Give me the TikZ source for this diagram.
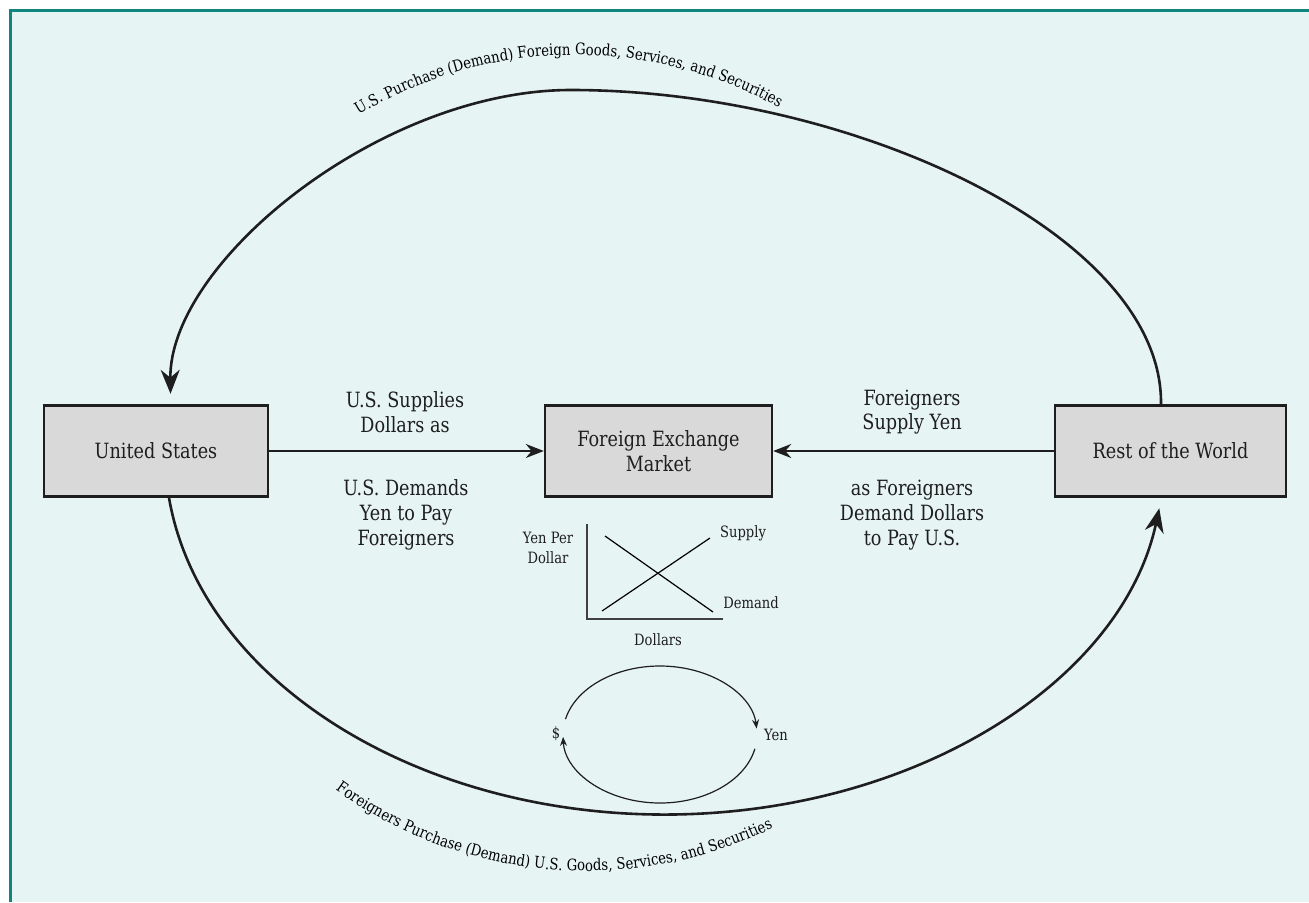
\documentclass[tikz,border=0pt]{standalone}
\usepackage{fontspec}
\setmainfont{DejaVu Serif}[FakeStretch=0.84]
\usetikzlibrary{arrows.meta, calc, decorations.text}
\definecolor{bgcol}{HTML}{E7F4F4}
\definecolor{framecol}{HTML}{10857D}
\definecolor{boxfill}{HTML}{D9D9D9}
\definecolor{ink}{HTML}{1E1E1E}
\newcommand\curvefont{\fontsize{7.9}{9}\selectfont}

\begin{document}
\begin{tikzpicture}[x=0.5pt, y=0.5pt, text=ink,
  block/.style={draw=ink, fill=boxfill, line width=1.2pt, minimum height=45.5pt,
    inner sep=0pt, font=\fontsize{10.5}{12.6}\selectfont, align=center},
  lbl/.style={font=\fontsize{10.5}{12.4}\selectfont, align=center},
  graphlbl/.style={font=\fontsize{7.8}{9.6}\selectfont, align=center, inner sep=1pt},
  xarr/.style={-{Stealth[length=9pt, width=7pt]}, line width=1pt, draw=ink},
  bigarr/.style={-{Stealth[length=12pt, width=9.5pt]}, line width=1.3pt, draw=ink},
  cycarr/.style={-{Stealth[length=4.5pt, width=3.5pt]}, line width=0.6pt, draw=ink}]

  % Frame
  \useasboundingbox (0,0) rectangle (1309,902);
  \fill[bgcol] (10,0) rectangle (1309,892);
  \draw[framecol, line width=1.5pt] (10,0) -- (10,891) -- (1309,891);

  % ---- Economies and market ----
  \node[block, minimum width=112pt] (us) at (156,451) {United States};
  \node[block, minimum width=113.5pt] (fx) at (658.5,451) {Foreign Exchange\\Market};
  \node[block, minimum width=115.5pt] (rw) at (1170.5,451) {Rest of the World};

  \draw[xarr] (us) -- (fx);
  \draw[xarr] (rw) -- (fx);

  \node[lbl] (ussup) at (405,490) {U.S. Supplies\\Dollars as};
  \node[lbl] (usdem) at (406,387) {U.S. Demands\\Yen to Pay\\Foreigners};
  \node[lbl] (fsup) at (912,490) {Foreigners\\Supply Yen};
  \node[lbl] (fdem) at (912,387) {as Foreigners\\Demand Dollars\\to Pay U.S.};

  % ---- Goods flows ----
  \coordinate (peak) at (571,812);
  \draw[bigarr] ([xshift=-4.75pt]rw.north) .. controls +(2,170) and (851,812) .. (peak)
    .. controls (381,812) and (169,640) .. ([shift={(7.25pt,5.25pt)}]us.north);
  \draw[bigarr] ([xshift=6.5pt]us.south)
    arc[start angle=187.1, end angle=351.2, x radius=500, y radius=361.5];

  \coordinate (topc) at (575,427);
  \coordinate (botc) at (586,459);
  \path[decorate, decoration={text along path, text align=center,
      text={|\curvefont|U.S. Purchase (Demand) Foreign Goods, Services, and Securities}}]
    ($(topc)+(126:420)$) arc[start angle=126, end angle=56, radius=420];
  \path[decorate, decoration={text along path, text align=center,
      text={|\curvefont|Foreigners Purchase (Demand) U.S. Goods, Services, and Securities}}]
    ($(botc)+(-130:428)$) arc[start angle=-130, end angle=-60, radius=428];

  % ---- Supply and demand sketch ----
  \coordinate (gorig) at (587,283);
  \draw[ink!85, line width=0.9pt] (587,378) -- (gorig) -- (723,283);
  \draw[line width=0.6pt] (602,291) -- (710,364);
  \draw[line width=0.6pt] (605,366) -- (713,290);
  \node[graphlbl] (sup) at (743,369) {Supply};
  \node[graphlbl] (dem) at (751,299) {Demand};
  \node[graphlbl] (dol) at (658,262) {Dollars};
  \node[graphlbl] (ypd) at (548,354) {Yen Per\\Dollar};

  % ---- Currency exchange cycle ----
  \coordinate (cyc) at (660,167.5);
  \draw[cycarr] ($(cyc)+(167:97 and 68.5)$)
    arc[start angle=167, end angle=5, x radius=97, y radius=68.5];
  \draw[cycarr] ($(cyc)+(-12:97 and 68.5)$)
    arc[start angle=-12, end angle=-178, x radius=97, y radius=68.5];
  \node[graphlbl] (dlr) at (556,168) {\$};
  \node[graphlbl] (yen) at (776,167) {Yen};

\end{tikzpicture}
\end{document}
